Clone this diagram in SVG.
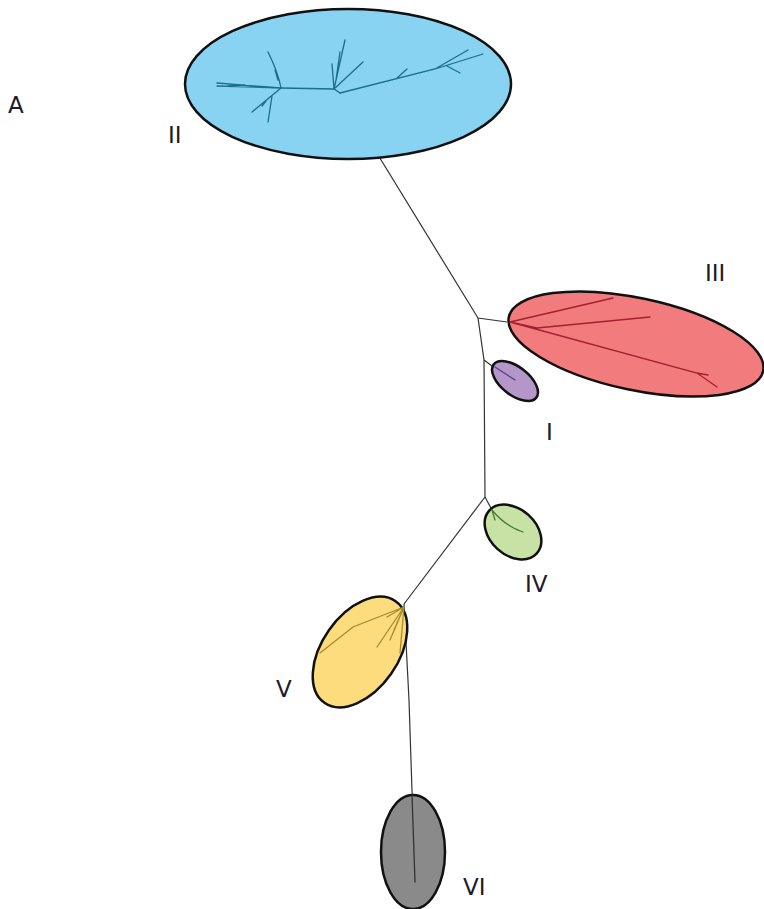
<svg xmlns="http://www.w3.org/2000/svg" width="764" height="909" viewBox="0 0 764 909">
<style>
.ell{stroke:#111;stroke-width:2.5}
.con{fill:none;stroke:#333;stroke-width:1.2}
.tree{fill:none;stroke-width:1.3;stroke-linecap:round}
.lbl{font-family:"DejaVu Sans",sans-serif;font-size:23px;fill:#1c1c2c}
</style>
<rect width="764" height="909" fill="#fff"/>
<g id="connectors">
<path class="con" d="M340,93 L478,318 L507,322"/>
<path class="con" d="M478,318 L484,360 L485,497"/>
<path class="con" d="M484,360 L492,366"/>
<path class="con" d="M485,497 L492,510"/>
<path class="con" d="M485,497 L404,604"/>
<path class="con" d="M404,604 L409,700 L415,882"/>
</g>
<g id="node-II">
<ellipse class="ell" cx="348" cy="84" rx="163" ry="75" fill="#87d3f1"/>
<g class="tree" stroke="#1b6f8c">
<path d="M340,93 L334,89 L281,88"/>
<path d="M340,93 L435,69 L468,50 M435,69 L483,54 M447,66 L460,73 M407,69 L397,78"/>
<path d="M334,89 L345,40 M336,80 L340,52 M334,89 L332,64 M334,89 L363,62"/>
<path d="M281,88 L217,83 M281,88 L217,86 M245,85 L228,86"/>
<path d="M281,88 Q278,72 268,52 M278,80 L275,70"/>
<path d="M281,88 L252,112 M272,96 L268,122 M266,101 L262,106"/>
</g>
</g>
<g id="node-III">
<ellipse class="ell" cx="636" cy="344" rx="130" ry="46" transform="rotate(12 636 344)" fill="#f27b7d"/>
<g class="tree" stroke="#a3202e">
<path d="M510,322 L613,298 M510,322 L537,328 L650,317 M510,322 L697,373 L717,387 M697,373 L708,375"/>
</g>
</g>
<g id="node-I">
<ellipse class="ell" cx="515" cy="381" rx="27" ry="14" transform="rotate(38 515 381)" fill="#b497c8"/>
<path class="tree" stroke="#5c3d85" d="M495,367 L515,380"/>
</g>
<g id="node-IV">
<ellipse class="ell" cx="513" cy="532" rx="32" ry="23" transform="rotate(42 513 532)" fill="#c8e2a6"/>
<path class="tree" stroke="#4a7a35" d="M492,510 L495,520 M492,510 Q505,526 523,532"/>
</g>
<g id="node-V">
<ellipse class="ell" cx="360" cy="652" rx="62" ry="38" transform="rotate(-55 360 652)" fill="#fddc7e"/>
<g class="tree" stroke="#a88a2a">
<path d="M404,607 L353,627 L320,653 M404,607 L377,647 M404,607 L390,640 M404,607 L400,653 M404,607 L387,617 M404,607 L394,630"/>
</g>
</g>
<g id="node-VI">
<ellipse class="ell" cx="413" cy="852" rx="32" ry="57" fill="#8a8a8a"/>
<path class="tree" stroke="#333" d="M412,795 L415,882"/>
</g>
<g id="labels">
<text class="lbl" x="8" y="113">A</text>
<text class="lbl" x="168" y="143">II</text>
<text class="lbl" x="705" y="281">III</text>
<text class="lbl" x="546" y="440">I</text>
<text class="lbl" x="525" y="592">IV</text>
<text class="lbl" x="276" y="697">V</text>
<text class="lbl" x="463" y="895">VI</text>
</g>
</svg>
